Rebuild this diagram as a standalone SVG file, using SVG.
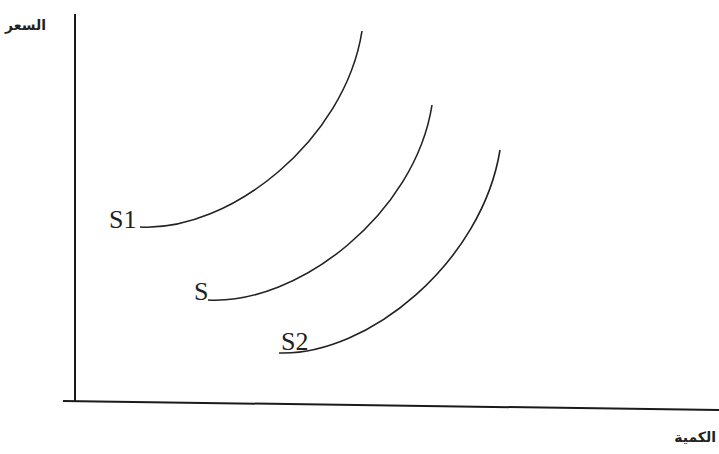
<svg xmlns="http://www.w3.org/2000/svg" width="719" height="454" viewBox="0 0 719 454">
<style>
.ax{stroke:#1a1a1a;stroke-width:2;fill:none}
.cv{stroke:#222;stroke-width:1.6;fill:none}
.lb{font-family:"Liberation Serif",serif;font-size:26px;fill:#222}
.ar{font-family:"DejaVu Sans","Noto Sans",sans-serif;font-size:14px;font-weight:bold;fill:#222}
</style>
<rect width="719" height="454" fill="#fff"/>
<g id="axes" class="ax">
<line x1="75" y1="14" x2="75" y2="401"/>
<path d="M63,401 L719,410"/>
</g>
<g id="axis-labels">
<text class="ar" x="46" y="30" text-anchor="end">السعر</text>
<text class="ar" x="716" y="442" text-anchor="end">الكمية</text>
</g>
<g id="connectors">
<path id="curve-S1" class="cv" d="M140,227 C230,232 345,140 362,31"/>
<path id="curve-S" class="cv" d="M208,300 C298,305 415,214 432,105"/>
<path id="curve-S2" class="cv" d="M279,353 C368,356 482,262 500,150"/>
</g>
<g id="S1"><text class="lb" x="109" y="228">S1</text></g>
<g id="S"><text class="lb" x="194" y="300">S</text></g>
<g id="S2"><text class="lb" x="281" y="350">S2</text></g>
</svg>
